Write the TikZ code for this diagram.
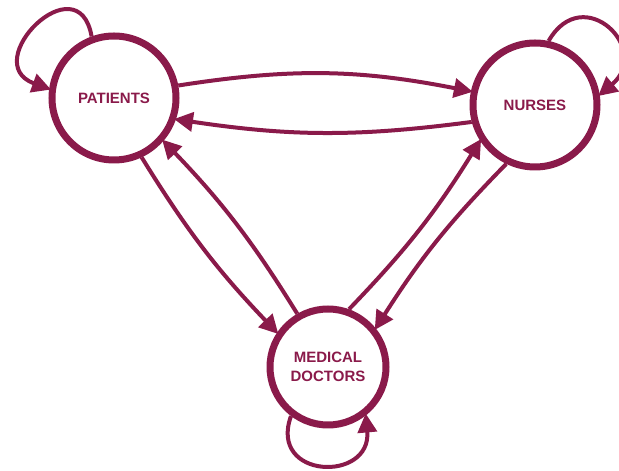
\documentclass[tikz,border=0pt]{standalone}
\usepackage{fontspec}
\setmainfont{Liberation Sans}
\usetikzlibrary{arrows.meta}
\definecolor{maroon}{RGB}{138,26,74}
\tikzset{
  state/.style={circle,draw=maroon,line width=7pt,text=maroon,font=\bfseries\fontsize{15}{18.5}\selectfont,align=center,inner sep=0pt},
  arr/.style={draw=maroon,line width=4pt,-{Triangle[length=19pt,width=19pt]},shorten >=-2pt}
}
\begin{document}
\begin{tikzpicture}[x=1pt,y=1pt]
\useasboundingbox (0,0) rectangle (619,471);
\node[state,minimum size=124pt] (P) at (114,373) {PATIENTS};
\node[state,minimum size=124pt] (N) at (535,366) {NURSES};
\node[state,minimum size=116pt] (D) at (328,104) {MEDICAL\\DOCTORS};
% between nodes
\draw[arr] (P.11) to[bend left=10] (N.168);
\draw[arr] (N.195) to[bend left=8] (P.341);
\draw[arr] (P.295) to[bend right=6] (D.146);
\draw[arr] (D.120) to[bend right=6] (P.319);
\draw[arr] (D.70) to[bend right=6] (N.213);
\draw[arr] (N.244) to[bend right=6] (D.39);
% self loops
\draw[arr] (P.110) to[out=100,in=160,looseness=2.9] (P.172);
\draw[arr] (N.78) to[out=60,in=40,looseness=2.4] (N.9);
\draw[arr] (D.233) to[out=250,in=275,looseness=2.3] (D.308);
\end{tikzpicture}
\end{document}
